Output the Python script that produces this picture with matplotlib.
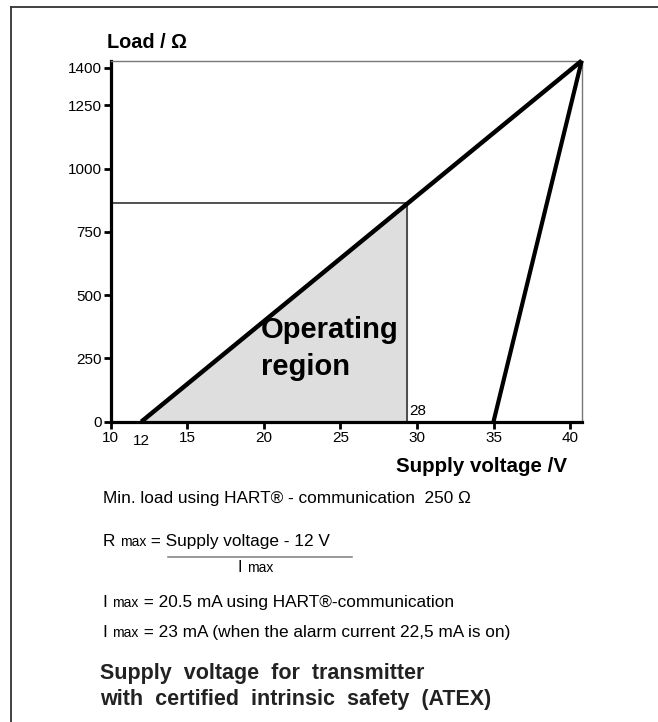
import numpy as np
import matplotlib
matplotlib.use("Agg")
import matplotlib.pyplot as plt
from matplotlib.lines import Line2D

plt.rcParams["font.family"] = ["Liberation Sans", "DejaVu Sans"]

# ---- data --------------------------------------------------------------
x_ticks = [10, 15, 20, 25, 30, 35, 40]
y_ticks = [0, 250, 500, 750, 1000, 1250, 1400]
x_max, y_max = 40.76, 1427      # apex of both load lines
v_min_hart = 12                 # operating line starts here
v_alarm = 35                    # second line starts here
v_atex = 29.35                  # operating limit (label "28")
r_atex = 863                    # load at the operating limit

W, H = 658, 722
fig = plt.figure(figsize=(W / 100, H / 100), dpi=100)
ax = fig.add_axes([110.7 / W, 1 - 421.7 / H, 471 / W, 361 / H])


def fx(px):
    return px / W


def fy(py):
    return 1 - py / H


# operating region
ax.fill([v_min_hart, v_atex, v_atex], [0, 0, r_atex], color="#dedede", zorder=1)
ax.plot([10, v_atex], [r_atex, r_atex], color="#333", lw=1.2, zorder=2)
ax.plot([v_atex, v_atex], [0, r_atex], color="#333", lw=1.2, zorder=2)
ax.plot([v_min_hart, x_max], [0, y_max], color="black", lw=3.2,
        solid_capstyle="butt", zorder=3, clip_on=False)
ax.plot([v_alarm, x_max], [0, y_max], color="black", lw=3.0,
        solid_capstyle="butt", zorder=3, clip_on=False)

ax.set_xlim(10, x_max)
ax.set_ylim(0, y_max)
ax.set_xticks(x_ticks)
ax.set_yticks(y_ticks)
ax.tick_params(axis="both", length=5, width=2, labelsize=11, color="black")
ax.tick_params(axis="x", pad=1.5)
ax.tick_params(axis="y", pad=1.5)
for s in ("left", "bottom"):
    ax.spines[s].set_linewidth(2.3)
    ax.spines[s].set_color("black")
for s in ("top", "right"):
    ax.spines[s].set_linewidth(1.0)
    ax.spines[s].set_color("#777")

# extra "12" label, slightly lower than the others
ax.text(v_min_hart, -0.033, "12", transform=ax.get_xaxis_transform(),
        ha="center", va="top", fontsize=11)
ax.text(v_atex + 0.15, 42, "28", ha="left", va="center", fontsize=11)
ax.text(19.8, 362, "Operating", ha="left", va="center",
        fontsize=21, fontweight="bold")
ax.text(19.8, 215, "region", ha="left", va="center",
        fontsize=21, fontweight="bold")

fig.text(fx(107), fy(43), "Load / Ω", ha="left", va="center",
         fontsize=14.3, fontweight="bold")
fig.text(fx(567), fy(466), "Supply voltage /V", ha="right", va="center",
         fontsize=14.8, fontweight="bold")

renderer = fig.canvas.get_renderer()


def runs(x, y, parts):
    """Draw text pieces one after another on a shared baseline (pixels)."""
    for txt, size in parts:
        t = fig.text(fx(x), fy(y), txt, ha="left", va="baseline", fontsize=size)
        x = t.get_window_extent(renderer).x1


runs(103, 503, [("Min. load using HART® - communication  250 Ω", 12.4)])
runs(103, 546, [("R ", 12.4), ("max", 10), (" = Supply voltage - 12 V", 12.4)])
fig.add_artist(Line2D([fx(168), fx(352)], [fy(557), fy(557)],
                      color="#888", lw=1.2))
runs(238, 572, [("I ", 11.5), ("max", 10)])
runs(103, 607, [("I ", 12.4), ("max", 10),
                (" = 20.5 mA using HART®-communication", 12.4)])
runs(103, 637, [("I ", 12.4), ("max", 10),
                (" = 23 mA (when the alarm current 22,5 mA is on)", 12.4)])

fig.text(fx(100), fy(679), "Supply  voltage  for  transmitter", ha="left",
         va="baseline", fontsize=15.5, fontweight="bold", color="#222")
fig.text(fx(100), fy(705), "with  certified  intrinsic  safety  (ATEX)",
         ha="left", va="baseline", fontsize=15.5, fontweight="bold", color="#222")

# page frame (top and left edges)
fig.add_artist(Line2D([fx(11), 1], [fy(7), fy(7)], color="#333", lw=1.3))
fig.add_artist(Line2D([fx(11), fx(11)], [fy(7), 0], color="#333", lw=1.3))

fig.savefig("out.png", dpi=100)
